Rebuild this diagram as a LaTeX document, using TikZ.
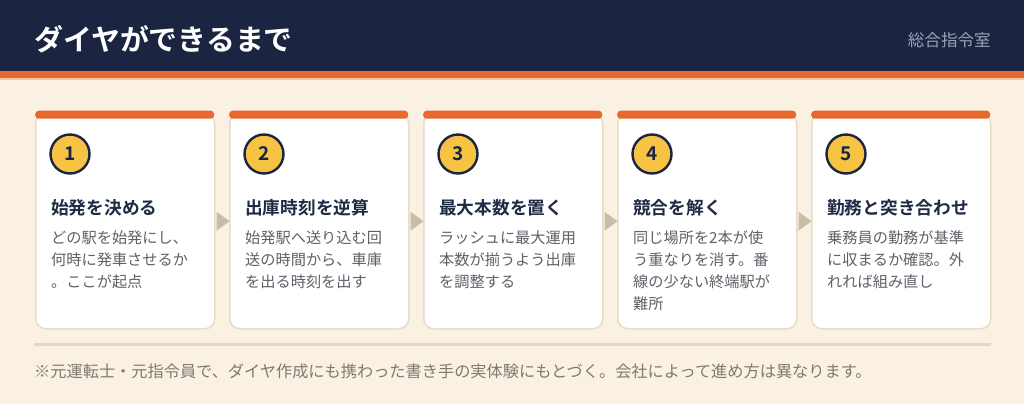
\documentclass[tikz,border=0pt]{standalone}
\usepackage{fontspec}
\setmainfont{Noto Sans CJK JP}
\newfontfamily\jpb{Noto Sans CJK JP Bold}
\usetikzlibrary{calc}
\definecolor{navy}{HTML}{1B2440}
\definecolor{orng}{HTML}{E8692E}
\definecolor{bgc}{HTML}{FBF1E3}
\definecolor{peach}{HTML}{F6C8A2}
\definecolor{cardb}{HTML}{E6DCC8}
\definecolor{tri}{HTML}{C8BDA5}
\definecolor{yel}{HTML}{F6C343}
\definecolor{ttl}{HTML}{1F2A44}
\definecolor{bodyc}{HTML}{5F6169}
\definecolor{sub}{HTML}{9AA3B5}
\definecolor{note}{HTML}{7D7A74}
\definecolor{sep}{HTML}{E5D8C2}
\tikzset{
  card/.style={draw=cardb, line width=1.5pt, fill=white, rounded corners=10pt,
    minimum width=179pt, minimum height=215pt, inner sep=0pt, anchor=north west},
  topbar/.style={fill=orng, rounded corners=3.5pt, minimum width=179pt, minimum height=8pt, inner sep=0pt, anchor=north west},
  num/.style={circle, draw=navy, line width=2.4pt, fill=yel, minimum size=39pt, inner sep=0pt,
    font=\jpb\fontsize{19}{19}\selectfont, text=navy},
  ctitle/.style={anchor=base west, inner sep=0pt, font=\jpb\fontsize{17.7}{20}\selectfont, text=ttl},
  cbody/.style={anchor=base west, inner sep=0pt, text=bodyc},
  tri/.style={fill=tri}
}
\newcommand{\bodytext}[1]{\parbox[t]{175pt}{\fontsize{15.2}{22}\selectfont #1}}
\begin{document}
\begin{tikzpicture}[x=1pt,y=-1pt]
\useasboundingbox (0,0) rectangle (1024,404);
\fill[bgc] (0,0) rectangle (1024,404);
\fill[navy] (0,0) rectangle (1024,71);
\fill[orng] (0,71) rectangle (1024,78);
\fill[peach] (0,78) rectangle (1024,79.5);
\node[anchor=base west, inner sep=0pt, text=white, font=\jpb\fontsize{28.9}{30}\selectfont] (title) at (34,50) {ダイヤができるまで};
\node[anchor=base east, inner sep=0pt, text=sub, font=\fontsize{16.6}{18}\selectfont] (org) at (991,46.3) {総合指令室};

\foreach \i/\x in {1/35,2/229,3/423,4/617,5/811}{
  \node[card] (c\i) at (\x,113) {};
  \node[topbar] (b\i) at (\x,110.5) {};
  \node[num] (n\i) at (\x+35,154) {\i};
}
\node[ctitle] (t1) at (51,214.7) {始発を決める};
\node[ctitle] (t2) at (245,214.7) {出庫時刻を逆算};
\node[ctitle] (t3) at (439,214.7) {最大本数を置く};
\node[ctitle] (t4) at (633,214.7) {競合を解く};
\node[ctitle] (t5) at (827,214.7) {勤務と突き合わせ};

\node[cbody] (d1) at (51,243.8) {\bodytext{どの駅を始発にし、\\何時に発車させるか\\。ここが起点}};
\node[cbody] (d2) at (245,243.8) {\bodytext{始発駅へ送り込む回\\送の時間から、車庫\\を出る時刻を出す}};
\node[cbody] (d3) at (439,243.8) {\bodytext{ラッシュに最大運用\\本数が揃うよう出庫\\を調整する}};
\node[cbody] (d4) at (633,243.8) {\bodytext{同じ場所を2本が使\\う重なりを消す。番\\線の少ない終端駅が\\難所}};
\node[cbody] (d5) at (827,243.8) {\bodytext{乗務員の勤務が基準\\に収まるか確認。外\\れれば組み直し}};

\foreach \a/\b in {1/2,2/3,3/4,4/5}{
  \fill[tri] ($(c\a.east)+(1,-9.5)$) -- ($(c\a.east)+(1,9.5)$) -- ($(c\a.east)+(14,0)$) -- cycle;
}
\draw[sep, line width=3pt] (34,344.5) -- (991,344.5);
\node[anchor=base west, inner sep=0pt, text=note, font=\fontsize{16.2}{18}\selectfont] (fn) at (34,377.2) {※元運転士・元指令員で、ダイヤ作成にも携わった書き手の実体験にもとづく。会社によって進め方は異なります。};
\end{tikzpicture}
\end{document}
